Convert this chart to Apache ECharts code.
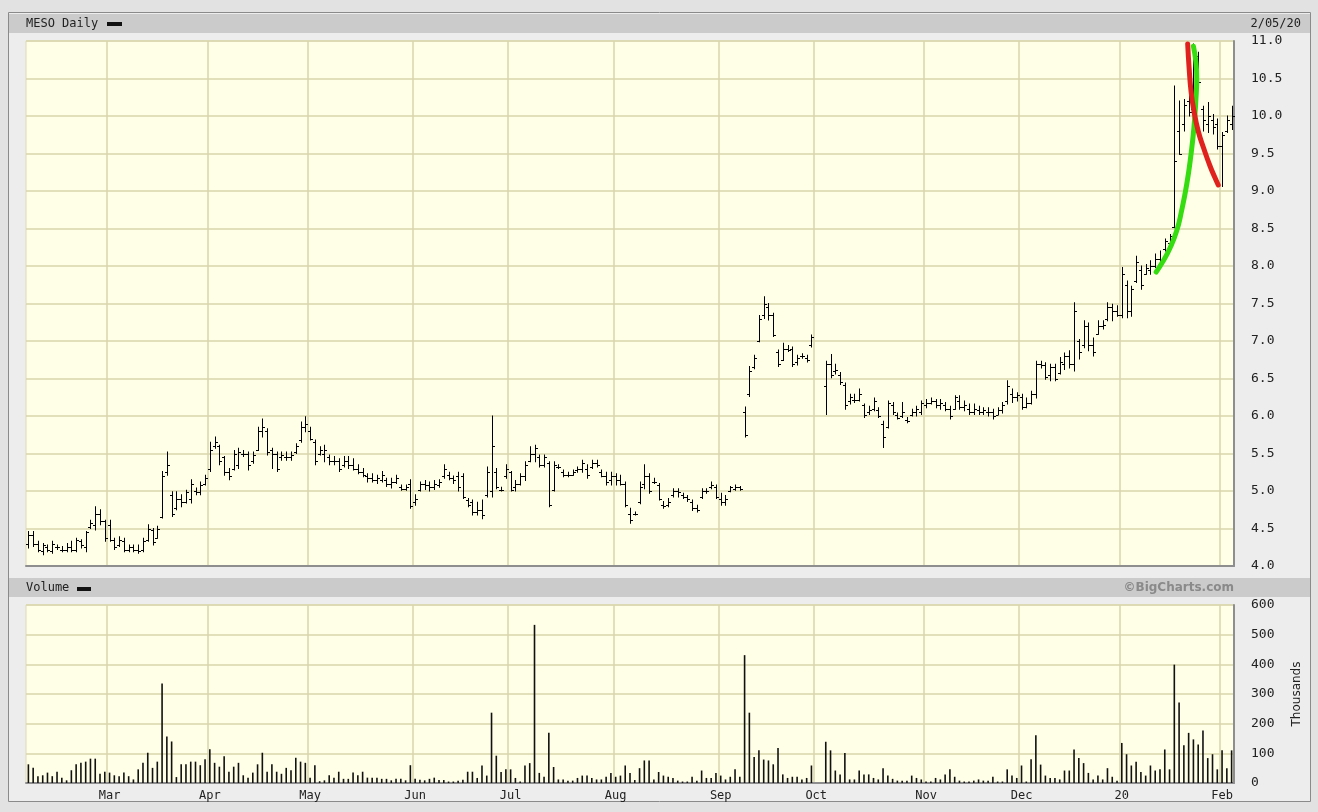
<!DOCTYPE html>
<html>
<head>
<meta charset="utf-8">
<script src="https://cdn.jsdelivr.net/npm/echarts@6/dist/echarts.min.js"></script>
<style>
html,body{margin:0;padding:0;background:#e2e2e2;}
#chart{width:1318px;height:812px;}
</style>
</head>
<body>
<div id="chart"></div>
<script>
// ---- Data: [open, high, low, close] per trading day ----
const ohlcFeb19 = [[4.30,4.46,4.24,4.42],[4.42,4.46,4.26,4.30],[4.30,4.33,4.19,4.22],[4.20,4.30,4.15,4.28],[4.25,4.28,4.19,4.22],[4.20,4.33,4.17,4.30],[4.25,4.28,4.22,4.25],[4.22,4.26,4.19,4.22],[4.22,4.30,4.19,4.25],[4.25,4.33,4.19,4.22],[4.22,4.37,4.19,4.35],[4.33,4.35,4.24,4.28],[4.25,4.46,4.19,4.45],[4.52,4.61,4.50,4.58],[4.55,4.79,4.48,4.70],[4.70,4.75,4.55,4.60],[4.60,4.61,4.33,4.38]];
const ohlcMar19 = [[4.55,4.61,4.33,4.35],[4.35,4.37,4.22,4.25],[4.28,4.39,4.26,4.35],[4.33,4.37,4.19,4.22],[4.22,4.28,4.19,4.25],[4.25,4.28,4.19,4.22],[4.22,4.28,4.17,4.20],[4.22,4.37,4.19,4.33],[4.35,4.55,4.33,4.50],[4.48,4.50,4.28,4.32],[4.38,4.53,4.37,4.50],[4.65,5.26,4.64,5.20],[5.25,5.52,5.21,5.35],[4.95,4.99,4.66,4.70],[4.78,4.99,4.75,4.90],[4.90,4.95,4.79,4.85],[4.86,5.01,4.84,4.98],[4.90,5.15,4.84,5.10],[5.00,5.04,4.95,4.98],[4.98,5.12,4.95,5.08],[5.10,5.21,5.08,5.18]];
const ohlcApr19 = [[5.30,5.65,5.26,5.55],[5.60,5.72,5.57,5.65],[5.60,5.61,5.35,5.40],[5.45,5.46,5.21,5.25],[5.25,5.30,5.15,5.20],[5.30,5.54,5.28,5.50],[5.35,5.57,5.30,5.52],[5.50,5.54,5.46,5.50],[5.50,5.52,5.28,5.35],[5.40,5.52,5.37,5.48],[5.55,5.85,5.54,5.80],[5.80,5.96,5.72,5.85],[5.80,5.83,5.48,5.52],[5.55,5.57,5.30,5.50],[5.50,5.52,5.26,5.30],[5.45,5.52,5.41,5.48],[5.45,5.52,5.41,5.45],[5.45,5.52,5.41,5.48],[5.52,5.63,5.50,5.60],[5.68,5.92,5.65,5.85],[5.85,5.99,5.79,5.90]];
const ohlcMay19 = [[5.80,5.85,5.68,5.70],[5.65,5.68,5.35,5.40],[5.50,5.59,5.48,5.55],[5.50,5.61,5.39,5.55],[5.45,5.48,5.35,5.40],[5.40,5.46,5.35,5.40],[5.40,5.43,5.26,5.30],[5.35,5.46,5.32,5.40],[5.40,5.46,5.30,5.35],[5.35,5.43,5.28,5.30],[5.30,5.35,5.23,5.25],[5.25,5.30,5.19,5.22],[5.20,5.23,5.12,5.18],[5.18,5.23,5.12,5.15],[5.15,5.21,5.10,5.18],[5.15,5.26,5.12,5.22],[5.15,5.17,5.06,5.10],[5.10,5.17,5.04,5.12],[5.12,5.21,5.10,5.18],[5.05,5.08,5.01,5.03],[5.03,5.08,5.01,5.05],[5.10,5.15,4.77,4.80]];
const ohlcJun19 = [[4.85,4.95,4.81,4.90],[5.02,5.12,5.00,5.10],[5.10,5.14,5.02,5.08],[5.08,5.12,5.00,5.05],[5.05,5.14,5.02,5.10],[5.08,5.15,5.05,5.12],[5.20,5.35,5.17,5.30],[5.22,5.25,5.15,5.18],[5.18,5.20,5.10,5.15],[5.20,5.25,5.00,5.05],[5.20,5.23,4.90,4.92],[4.88,4.90,4.79,4.82],[4.85,4.88,4.68,4.72],[4.72,4.85,4.68,4.75],[4.75,4.88,4.63,4.68],[4.95,5.32,4.92,5.25],[5.00,6.00,4.92,5.60],[5.25,5.30,5.03,5.05],[5.02,5.05,5.00,5.02],[5.20,5.35,5.17,5.30]];
const ohlcJul19 = [[5.25,5.26,5.00,5.02],[5.05,5.14,5.00,5.10],[5.10,5.23,5.08,5.20],[5.20,5.39,5.14,5.35],[5.40,5.59,5.39,5.50],[5.50,5.61,5.39,5.58],[5.45,5.48,5.32,5.35],[5.35,5.48,5.32,5.45],[5.38,5.39,4.79,4.82],[5.02,5.39,5.00,5.35],[5.32,5.35,5.30,5.32],[5.25,5.28,5.19,5.22],[5.22,5.25,5.19,5.22],[5.22,5.28,5.21,5.25],[5.28,5.32,5.25,5.30],[5.30,5.41,5.25,5.38],[5.30,5.35,5.17,5.22],[5.32,5.41,5.30,5.38],[5.38,5.41,5.32,5.35],[5.25,5.28,5.19,5.20],[5.20,5.25,5.08,5.12],[5.15,5.25,5.08,5.20]];
const ohlcAug19 = [[5.20,5.23,5.08,5.15],[5.15,5.21,5.08,5.10],[5.10,5.12,4.79,4.82],[4.70,4.77,4.57,4.62],[4.70,4.72,4.68,4.70],[4.85,5.12,4.83,5.05],[5.10,5.35,5.03,5.20],[5.20,5.23,4.97,5.00],[5.12,5.17,5.10,5.12],[5.08,5.10,4.88,4.90],[4.82,4.86,4.77,4.80],[4.82,4.90,4.79,4.85],[4.95,5.03,4.92,5.00],[5.00,5.03,4.92,4.98],[4.95,4.97,4.90,4.92],[4.92,4.94,4.86,4.90],[4.85,4.88,4.74,4.78],[4.78,4.81,4.72,4.75],[4.92,5.03,4.90,5.00],[5.00,5.03,4.97,5.00],[5.05,5.12,5.03,5.08],[5.05,5.08,4.90,4.92]];
const ohlcSep19 = [[4.90,4.97,4.81,4.85],[4.85,4.94,4.81,4.90],[5.00,5.06,4.99,5.05],[5.03,5.08,5.01,5.05],[5.05,5.06,5.01,5.03],[6.05,6.12,5.72,5.75],[6.30,6.66,6.26,6.60],[6.65,6.81,6.63,6.78],[7.00,7.34,6.99,7.30],[7.35,7.59,7.30,7.50],[7.45,7.50,7.28,7.35],[7.35,7.37,7.06,7.08],[6.85,6.88,6.66,6.70],[6.75,6.97,6.74,6.90],[6.90,6.94,6.86,6.88],[6.90,6.92,6.66,6.70],[6.72,6.81,6.68,6.78],[6.80,6.83,6.77,6.80],[6.78,6.81,6.72,6.75],[6.95,7.08,6.92,7.05]];
const ohlcOct19 = [null,null,[6.40,6.73,6.02,6.70],[6.70,6.82,6.51,6.55],[6.60,6.69,6.56,6.62],[6.55,6.58,6.42,6.45],[6.42,6.44,6.09,6.15],[6.20,6.29,6.16,6.25],[6.22,6.29,6.18,6.22],[6.22,6.36,6.20,6.30],[6.15,6.16,5.98,6.02],[6.05,6.13,6.02,6.08],[6.10,6.24,6.07,6.20],[6.08,6.11,5.98,6.00],[5.90,5.93,5.58,5.72],[5.85,6.20,5.84,6.18],[6.15,6.18,6.02,6.05],[6.02,6.04,5.96,5.98],[6.00,6.18,5.98,6.05],[5.95,5.98,5.91,5.93],[6.02,6.09,6.00,6.05],[6.05,6.13,6.00,6.10],[6.05,6.20,6.02,6.18]];
const ohlcNov19 = [[6.15,6.22,6.11,6.18],[6.18,6.24,6.16,6.20],[6.20,6.22,6.11,6.15],[6.15,6.22,6.09,6.18],[6.15,6.18,6.07,6.10],[6.10,6.13,5.96,6.00],[6.10,6.27,6.09,6.25],[6.20,6.27,6.09,6.12],[6.12,6.20,6.07,6.15],[6.10,6.16,6.02,6.05],[6.05,6.16,6.02,6.10],[6.08,6.13,6.02,6.05],[6.05,6.11,6.02,6.08],[6.05,6.11,6.00,6.05],[6.05,6.09,5.96,6.00],[6.02,6.11,6.02,6.08],[6.08,6.18,6.04,6.15],[6.20,6.47,6.16,6.40],[6.30,6.36,6.18,6.25],[6.25,6.31,6.20,6.28]];
const ohlcDec19 = [[6.25,6.29,6.09,6.12],[6.12,6.24,6.11,6.18],[6.18,6.33,6.16,6.30],[6.30,6.73,6.24,6.70],[6.70,6.73,6.64,6.68],[6.68,6.71,6.49,6.52],[6.55,6.69,6.47,6.65],[6.65,6.69,6.47,6.50],[6.58,6.78,6.56,6.72],[6.70,6.84,6.62,6.80],[6.80,6.87,6.64,6.70],[6.70,7.51,6.60,7.40],[7.00,7.02,6.76,6.85],[6.95,7.27,6.91,7.20],[7.20,7.24,6.87,6.95],[6.95,7.04,6.80,6.85],[7.10,7.27,7.09,7.20],[7.20,7.27,7.16,7.22],[7.30,7.51,7.27,7.45],[7.45,7.49,7.27,7.40],[7.40,7.47,7.33,7.35]];
const ohlcJan20 = [[7.35,7.98,7.31,7.90],[7.75,7.80,7.31,7.40],[7.40,7.73,7.33,7.70],[7.80,8.13,7.78,8.05],[7.95,8.00,7.69,7.75],[7.90,8.02,7.89,7.98],[7.95,8.07,7.89,8.00],[8.00,8.16,7.98,8.10],[8.10,8.20,7.98,8.05],[8.22,8.36,8.20,8.33],[8.30,8.42,8.27,8.40],[8.52,10.40,8.51,9.40],[9.80,10.20,9.49,9.50],[9.90,10.22,9.80,10.15],[10.20,10.33,10.00,10.05],[10.10,10.96,10.02,10.85],[10.80,10.85,10.40,10.45],[10.10,10.13,9.80,9.95],[9.90,10.18,9.78,10.00],[9.95,10.02,9.76,9.85],[9.90,9.96,9.56,9.60]];
const ohlcFeb20 = [[9.60,9.78,9.06,9.75],[9.80,10.00,9.78,9.95],[9.90,10.13,9.82,10.00]];

// ---- Volume, thousands of shares ----
const volFeb19 = [63,51,23,26,35,23,38,18,9,43,63,68,72,82,82,31,38];
const volMar19 = [35,26,23,35,23,12,46,68,102,51,72,335,157,140,20,63,63,72,72,60,80];
const volApr19 = [114,68,55,90,38,55,68,26,18,35,63,102,38,63,38,31,51,43,85,72,68];
const volMay19 = [18,60,6,9,26,18,38,14,14,35,26,38,18,18,18,14,14,9,14,14,9,60];
const volJun19 = [14,11,9,14,18,10,10,5,5,8,11,38,38,17,59,25,237,92,37,46];
const volJul19 = [46,17,5,59,67,533,34,21,169,54,12,12,8,8,17,25,25,17,12,12,21,34];
const volAug19 = [21,25,59,34,10,50,76,76,12,37,25,21,17,8,5,5,21,8,42,17,17,34];
const volSep19 = [25,12,21,46,21,431,237,88,110,79,76,63,118,29,17,21,21,12,17,59];
const volOct19 = [null,null,139,110,42,29,101,12,12,42,29,29,17,12,50,25,14,8,8,8,25,17,12];
const volNov19 = [5,5,17,12,29,46,21,8,5,5,8,12,8,8,21,5,5,46,25,17];
const volDec19 = [59,5,80,161,62,25,17,17,12,42,42,113,84,67,34,12,25,12,50,21,8];
const volJan20 = [135,97,59,72,37,25,59,42,46,113,46,399,271,127,169,147,130,177,84,97,46];
const volFeb20 = [110,50,110];

// ---- Hand-drawn annotation curves: [bar index, price] ----
const greenCurve = [[236.2,7.92],[237.7,8.07],[239.1,8.24],[240.5,8.47],[241.5,8.73],[242.6,9.09],[243.5,9.49],[244.1,9.84],[244.5,10.2],[244.7,10.51],[244.5,10.73],[244.0,10.93]];
const redCurve = [[242.8,10.96],[243.1,10.64],[243.5,10.33],[244.1,10.07],[245.0,9.80],[246.1,9.58],[247.5,9.33],[248.5,9.18],[249.2,9.08]];

// ---- Axis ticks ----
const priceTicks = {min: 4, max: 11, interval: 0.5};
const volumeTicks = {min: 0, max: 600, interval: 100};
const monthNames = ['20','Feb','Mar','Apr','May','Jun','Jul','Aug','Sep','Oct','Nov','Dec'];
const holidays = ['2019-02-18','2019-04-19','2019-05-27','2019-07-04','2019-09-02','2019-11-28','2019-12-25','2020-01-01','2020-01-20'];

// trading calendar 2019-02-05 .. 2020-02-05
const dates = [];
(function(){
  let d = new Date(Date.UTC(2019,1,5));
  const end = new Date(Date.UTC(2020,1,5));
  while (d <= end) {
    const wd = d.getUTCDay();
    const s = d.toISOString().slice(0,10);
    if (wd !== 0 && wd !== 6 && holidays.indexOf(s) < 0) dates.push(s);
    d = new Date(d.getTime() + 86400000);
  }
})();
function isMonthStart(i){
  if (i <= 0) return false;
  return dates[i].slice(5,7) !== dates[i-1].slice(5,7);
}

const ohlc = [].concat(ohlcFeb19, ohlcMar19, ohlcApr19, ohlcMay19, ohlcJun19, ohlcJul19, ohlcAug19, ohlcSep19, ohlcOct19, ohlcNov19, ohlcDec19, ohlcJan20, ohlcFeb20);
const volume = [].concat(volFeb19, volMar19, volApr19, volMay19, volJun19, volJul19, volAug19, volSep19, volOct19, volNov19, volDec19, volJan20, volFeb20);
const ohlcData = [];
ohlc.forEach(function(v, i){ if (v) ohlcData.push([i, v[0], v[1], v[2], v[3]]); });

const MONO = "'DejaVu Sans Mono', 'Liberation Mono', monospace";
const gridColor = '#d9d6ab';
const edgeColor = '#8e8e8e';
const plotBg = '#fffee6';
const N = dates.length;

const chart = echarts.init(document.getElementById('chart'), null, {renderer: 'canvas'});
const option = {
  animation: false,
  backgroundColor: '#e2e2e2',
  graphic: {
    elements: [
      {type: 'rect', z: -10, shape: {x: 8.5, y: 12.5, width: 1302, height: 789}, style: {fill: '#ededed', stroke: '#8a8a8a', lineWidth: 1}},
      {type: 'rect', z: -9, shape: {x: 9, y: 14, width: 1301, height: 19}, style: {fill: '#cbcbcb'}},
      {type: 'rect', z: -9, shape: {x: 9, y: 578, width: 1301, height: 19}, style: {fill: '#cbcbcb'}},
      {type: 'text', z: 5, x: 26, y: 24, style: {text: 'MESO Daily', font: '12px ' + MONO, fill: '#222', textVerticalAlign: 'middle'}},
      {type: 'rect', z: 5, shape: {x: 107, y: 22, width: 15, height: 4}, style: {fill: '#111'}},
      {type: 'text', z: 5, x: 1301, y: 24, style: {text: '2/05/20', font: '12px ' + MONO, fill: '#222', textAlign: 'right', textVerticalAlign: 'middle'}},
      {type: 'text', z: 5, x: 26, y: 588, style: {text: 'Volume', font: '12px ' + MONO, fill: '#222', textVerticalAlign: 'middle'}},
      {type: 'rect', z: 5, shape: {x: 77, y: 587, width: 14, height: 4}, style: {fill: '#111'}},
      {type: 'text', z: 5, x: 1234, y: 588, style: {text: '©BigCharts.com', font: 'bold 12px "DejaVu Sans", sans-serif', fill: '#8a8a8a', textAlign: 'right', textVerticalAlign: 'middle'}}
    ]
  },
  grid: [
    {left: 26, top: 41, width: 1208, height: 525, show: true, backgroundColor: plotBg, borderColor: '#dcdab8', borderWidth: 1},
    {left: 26, top: 605, width: 1208, height: 178, show: true, backgroundColor: plotBg, borderColor: '#dcdab8', borderWidth: 1}
  ],
  xAxis: [
    {type: 'category', gridIndex: 0, data: dates, boundaryGap: true,
     axisLine: {show: true, onZero: false, lineStyle: {color: edgeColor, width: 2}},
     axisTick: {show: false}, axisLabel: {show: false},
     splitLine: {show: true, interval: function(i){ return isMonthStart(i); }, lineStyle: {color: gridColor, width: 1.5}}},
    {type: 'category', gridIndex: 1, data: dates, boundaryGap: true,
     axisLine: {show: true, onZero: false, lineStyle: {color: edgeColor, width: 2}},
     axisTick: {show: false},
     axisLabel: {show: true, interval: function(i){ return isMonthStart(i); }, margin: 7, color: '#222', fontFamily: MONO, fontSize: 12,
       formatter: function(v){ return monthNames[parseInt(v.slice(5,7),10) - 1]; }},
     splitLine: {show: true, interval: function(i){ return isMonthStart(i); }, lineStyle: {color: gridColor, width: 1.5}}},
    {type: 'value', gridIndex: 0, min: -0.5, max: N - 0.5, show: false}
  ],
  yAxis: [
    {type: 'value', gridIndex: 0, position: 'right', min: priceTicks.min, max: priceTicks.max, interval: priceTicks.interval,
     axisLine: {show: true, onZero: false, lineStyle: {color: edgeColor, width: 2}}, axisTick: {show: false},
     axisLabel: {align: 'left', margin: 17, color: '#222', fontFamily: MONO, fontSize: 13, formatter: function(v){ return v.toFixed(1); }},
     splitLine: {show: true, lineStyle: {color: gridColor, width: 1.5}}},
    {type: 'value', gridIndex: 1, position: 'right', min: volumeTicks.min, max: volumeTicks.max, interval: volumeTicks.interval,
     name: 'Thousands', nameLocation: 'middle', nameRotate: 90, nameGap: 57,
     nameTextStyle: {color: '#222', fontFamily: "'DejaVu Sans', sans-serif", fontSize: 12},
     axisLine: {show: true, onZero: false, lineStyle: {color: edgeColor, width: 2}}, axisTick: {show: false},
     axisLabel: {align: 'left', margin: 17, color: '#222', fontFamily: MONO, fontSize: 13},
     splitLine: {show: true, lineStyle: {color: gridColor, width: 1.5}}}
  ],
  series: [
    {type: 'custom', xAxisIndex: 0, yAxisIndex: 0, data: ohlcData,
     encode: {x: 0, y: [1,2,3,4]},
     renderItem: function(params, api){
       const idx = api.value(0);
       const pO = api.coord([idx, api.value(1)]);
       const pH = api.coord([idx, api.value(2)]);
       const pL = api.coord([idx, api.value(3)]);
       const pC = api.coord([idx, api.value(4)]);
       const x = Math.round(pH[0]) + 0.5;
       const st = {stroke: '#000', lineWidth: 1};
       return {type: 'group', children: [
         {type: 'line', shape: {x1: x, y1: pH[1] - 0.5, x2: x, y2: pL[1] + 0.5}, style: st},
         {type: 'line', shape: {x1: x - 2.5, y1: Math.round(pO[1]) + 0.5, x2: x, y2: Math.round(pO[1]) + 0.5}, style: st},
         {type: 'line', shape: {x1: x, y1: Math.round(pC[1]) + 0.5, x2: x + 2.5, y2: Math.round(pC[1]) + 0.5}, style: st}
       ]};
     }},
    {type: 'bar', xAxisIndex: 1, yAxisIndex: 1, data: volume, barWidth: 1.6,
     itemStyle: {color: '#111'}},
    {type: 'line', xAxisIndex: 2, yAxisIndex: 0, data: greenCurve, smooth: 0.5, symbol: 'none', z: 5,
     lineStyle: {color: '#34dc10', width: 5, cap: 'round', join: 'round'}},
    {type: 'line', xAxisIndex: 2, yAxisIndex: 0, data: redCurve, smooth: 0.5, symbol: 'none', z: 6,
     lineStyle: {color: '#e0221e', width: 5, cap: 'round', join: 'round'}}
  ]
};
chart.setOption(option);
</script>
</body>
</html>
